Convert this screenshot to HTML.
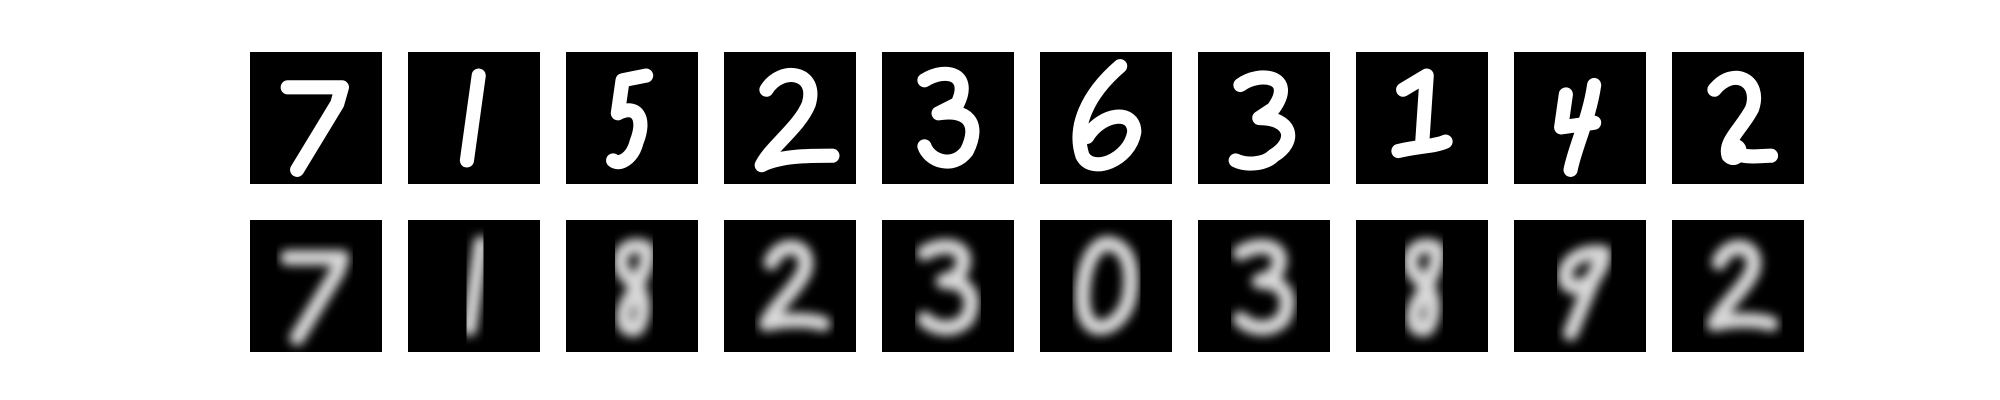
<!DOCTYPE html>
<html><head><meta charset="utf-8"><style>
html,body{margin:0;padding:0;background:#fff;width:2000px;height:400px;overflow:hidden}
svg{position:absolute;left:0;top:0}
</style></head><body>
<svg id="fig" width="2000" height="400">
<defs>
<filter id="blur" x="-20%" y="-20%" width="140%" height="140%"><feGaussianBlur stdDeviation="1.1"/></filter>
</defs>
</svg>
<script>
const originalDigits = ["7","1","5","2","3","6","3","1","4","2"];
const reconDigits = ["7","1","8","2","3","0","3","8","9","2"];
const topPaths = [
 "M8,7.5 L19.5,7.5 L18.5,11 L10,25",
 "M15,5 L12.5,23",
 "M17,5 L12,6 L11,13 C15,11 17,14 15,19 C14,23 11,24 10,23",
 "M9,8 C12,3 20,4 18,11 C16,16 10,20 8,24 C12,22 18,22 23,22",
 "M9,6 C14,3 19,5 16,11 L12,13 C18,12 21,15 18,21 C15,25 10,23 9,20",
 "M17,3 C10,9 7,16 9,22 C11,26 19,23 20,17 C20,12 13,13 10,18",
 "M9,7 C13,4 21,5 16,12 L13,14 C20,14 21,19 16,22 C14,24 10,24 8,23",
 "M10,8 L15,5 L14,20 M9,21 C13,20 17,20 19,19",
 "M11,9 L10,16 L17,15 M17,7 C16,14 13,20 12,25",
 "M9,8 C13,3 19,6 17,12 C15,16 11,19 12,22 C14,24 16,19 12,20 C14,23 18,22 21,22"
];
const bottomPaths = [
 "M8,8 L19.5,8 L18.5,11 L10,25",
 "M15.5,5 L13,23",
 "M17,6 C12,4 10,9 13,12 C17,15 17,20 15,23 C12,24 11,20 14,16 C16,12 18,8 17,6",
 "M10,9 C12,4 19,5 17,11 C15,15 11,18 9,22 C13,21 18,21 21,22",
 "M9,7 C14,4 20,6 16,12 L13,13 C19,13 20,17 18,21 C15,24 11,23 9,21",
 "M14,5 C9,6 8,18 10,21 C12,25 18,22 19,16 C20,9 18,5 14,5",
 "M9,7 C14,4 20,6 16,12 L13,13 C19,13 20,17 18,21 C15,24 11,23 9,21",
 "M17,6 C12,4 10,9 13,12 C17,15 17,20 15,23 C12,24 11,20 14,16 C16,12 18,8 17,6",
 "M19,7 C12,6 9,12 12,14 C16,15 19,10 19,7 L12,24",
 "M10,9 C12,4 19,5 17,11 C15,15 11,18 9,22 C13,21 18,21 21,22"
];
const NS="http://www.w3.org/2000/svg";
const fig=document.getElementById('fig');
const x0=250, dx=158, size=132, rowY=[52,220];
function panel(i,row){
  const g=document.createElementNS(NS,'g');
  
  
  g.setAttribute('transform','translate('+(x0+dx*i)+','+rowY[row]+') scale('+(size/28)+')');
  const r=document.createElementNS(NS,'rect');
  r.setAttribute('width','28');r.setAttribute('height','28');r.setAttribute('fill','#000');
  g.appendChild(r);
  const p=document.createElementNS(NS,'path');
  p.setAttribute('d', row===0?topPaths[i]:bottomPaths[i]);
  p.setAttribute('fill','none');
  p.setAttribute('stroke', row===0?'#fff':'#d8d8d8');
  p.setAttribute('stroke-width', row===0?'3':'3.2');
  p.setAttribute('stroke-linecap','round');p.setAttribute('stroke-linejoin','round');
  if(row===1) p.setAttribute('filter','url(#blur)');
  g.appendChild(p);
  const t=document.createElementNS(NS,'title');
  t.textContent=row===0?originalDigits[i]:reconDigits[i];
  g.appendChild(t);
  fig.appendChild(g);
}
for(let i=0;i<originalDigits.length;i++){panel(i,0);panel(i,1);}
</script>
</body></html>
